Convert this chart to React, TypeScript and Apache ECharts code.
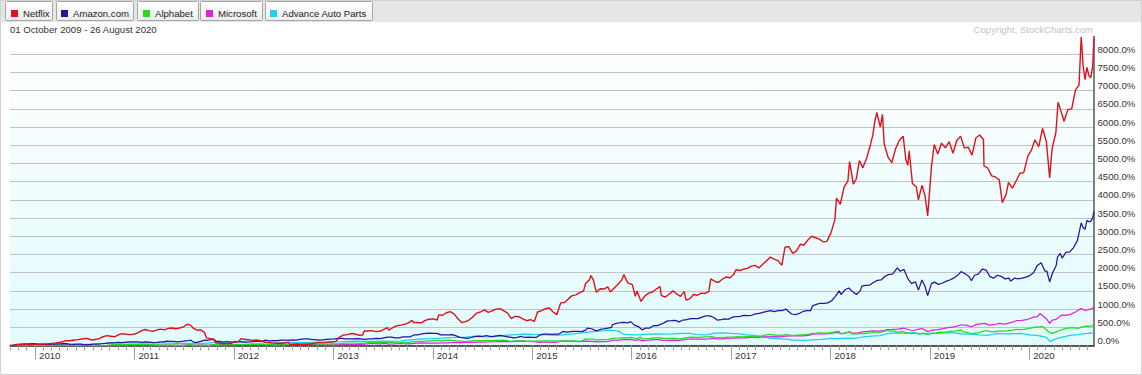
import React, { useEffect, useRef } from 'react';
import * as echarts from 'echarts';

type Pt = [string, number];

const startDate = '2009-10-01';
const endDate = '2020-08-26';
const dateRangeText = '01 October 2009 - 26 August 2020';
const copyrightText = 'Copyright, StockCharts.com';
const seriesNames = ['Netflix', 'Amazon.com', 'Alphabet', 'Microsoft', 'Advance Auto Parts'];
const seriesColors = ['#e0101c', '#2a129e', '#22dd22', '#e61ee0', '#1cd0ee'];
const yMin = 0;
const yMax = 8490;
const yStep = 500;

const netflix: Pt[] = [
  ['2009-10-01', 0], ['2009-10-12', 8], ['2009-10-23', 25], ['2009-11-06', 22], ['2009-11-20', 30], ['2009-12-04', 25], ['2009-12-18', 22],
  ['2010-01-04', 30], ['2010-01-15', 35], ['2010-01-28', 45], ['2010-02-10', 40], ['2010-02-24', 50], ['2010-03-10', 60], ['2010-03-24', 80],
  ['2010-04-08', 95], ['2010-04-23', 135], ['2010-05-07', 130], ['2010-05-21', 145], ['2010-06-07', 160], ['2010-06-21', 180], ['2010-07-06', 195],
  ['2010-07-16', 185], ['2010-07-28', 150], ['2010-08-10', 165], ['2010-08-24', 190], ['2010-09-08', 240], ['2010-09-22', 270], ['2010-10-06', 255],
  ['2010-10-20', 240], ['2010-11-03', 295], ['2010-11-17', 325], ['2010-12-01', 310], ['2010-12-15', 300], ['2010-12-29', 310],
  ['2011-01-12', 340], ['2011-01-27', 410], ['2011-02-10', 440], ['2011-02-24', 410], ['2011-03-10', 390], ['2011-03-24', 430], ['2011-04-07', 450],
  ['2011-04-21', 430], ['2011-05-05', 470], ['2011-05-19', 480], ['2011-06-02', 460], ['2011-06-16', 480], ['2011-06-30', 510], ['2011-07-13', 585],
  ['2011-07-26', 560], ['2011-08-05', 480], ['2011-08-19', 420], ['2011-09-01', 430], ['2011-09-15', 360], ['2011-09-23', 210], ['2011-10-07', 190],
  ['2011-10-21', 170], ['2011-10-26', 75], ['2011-11-09', 60], ['2011-11-23', 50], ['2011-12-07', 55], ['2011-12-21', 55],
  ['2012-01-05', 110], ['2012-01-19', 100], ['2012-01-27', 190], ['2012-02-10', 170], ['2012-02-24', 160], ['2012-03-09', 140], ['2012-03-23', 150],
  ['2012-04-09', 130], ['2012-04-25', 85], ['2012-05-09', 75], ['2012-05-23', 65], ['2012-06-08', 60], ['2012-06-22', 55], ['2012-07-09', 75],
  ['2012-07-20', 85], ['2012-07-26', 30], ['2012-08-09', 35], ['2012-08-23', 40], ['2012-09-07', 30], ['2012-09-21', 35], ['2012-10-05', 40],
  ['2012-10-24', 60], ['2012-11-01', 75], ['2012-11-15', 75], ['2012-11-29', 80], ['2012-12-13', 100], ['2012-12-27', 95],
  ['2013-01-10', 115], ['2013-01-25', 240], ['2013-02-08', 290], ['2013-02-22', 300], ['2013-03-08', 330], ['2013-03-22', 315], ['2013-04-05', 280],
  ['2013-04-19', 290], ['2013-04-24', 400], ['2013-05-08', 400], ['2013-05-22', 410], ['2013-06-07', 380], ['2013-06-21', 390], ['2013-07-05', 440],
  ['2013-07-19', 490], ['2013-07-24', 420], ['2013-08-07', 490], ['2013-08-21', 540], ['2013-09-05', 560], ['2013-09-19', 580], ['2013-10-03', 620],
  ['2013-10-17', 690], ['2013-10-23', 630], ['2013-11-06', 630], ['2013-11-20', 620], ['2013-12-04', 690], ['2013-12-18', 720],
  ['2014-01-03', 730], ['2014-01-17', 700], ['2014-01-23', 840], ['2014-02-06', 830], ['2014-02-20', 900], ['2014-03-06', 930], ['2014-03-20', 870],
  ['2014-04-03', 740], ['2014-04-17', 630], ['2014-04-30', 650], ['2014-05-14', 700], ['2014-05-28', 780], ['2014-06-11', 890], ['2014-06-25', 920],
  ['2014-07-10', 980], ['2014-07-24', 910], ['2014-08-07', 950], ['2014-08-21', 1000], ['2014-09-05', 1010], ['2014-09-19', 950], ['2014-10-03', 890],
  ['2014-10-16', 740], ['2014-10-30', 800], ['2014-11-13', 790], ['2014-11-28', 730], ['2014-12-12', 680], ['2014-12-26', 710],
  ['2015-01-09', 660], ['2015-01-21', 920], ['2015-02-05', 960], ['2015-02-19', 1010], ['2015-03-05', 1030], ['2015-03-19', 920], ['2015-04-02', 850],
  ['2015-04-16', 1170], ['2015-04-30', 1180], ['2015-05-14', 1280], ['2015-05-28', 1370], ['2015-06-11', 1390], ['2015-06-25', 1450], ['2015-07-09', 1500],
  ['2015-07-16', 1700], ['2015-07-30', 1800], ['2015-08-05', 1920], ['2015-08-14', 1800], ['2015-08-25', 1460], ['2015-09-08', 1560], ['2015-09-22', 1550],
  ['2015-10-06', 1610], ['2015-10-15', 1470], ['2015-10-29', 1570], ['2015-11-12', 1680], ['2015-11-26', 1800], ['2015-12-04', 1950], ['2015-12-18', 1720],
  ['2016-01-04', 1670], ['2016-01-15', 1350], ['2016-01-21', 1500], ['2016-02-05', 1210], ['2016-02-19', 1360], ['2016-03-04', 1440], ['2016-03-18', 1470],
  ['2016-04-01', 1550], ['2016-04-15', 1620], ['2016-04-19', 1380], ['2016-05-03', 1330], ['2016-05-17', 1400], ['2016-06-01', 1500], ['2016-06-15', 1420],
  ['2016-06-29', 1350], ['2016-07-13', 1480], ['2016-07-19', 1250], ['2016-08-02', 1280], ['2016-08-16', 1400], ['2016-08-30', 1380], ['2016-09-13', 1440],
  ['2016-09-27', 1430], ['2016-10-11', 1480], ['2016-10-18', 1830], ['2016-11-01', 1770], ['2016-11-15', 1730], ['2016-11-29', 1820], ['2016-12-13', 1880],
  ['2016-12-28', 1860],
  ['2017-01-11', 1960], ['2017-01-19', 2080], ['2017-02-02', 2060], ['2017-02-16', 2100], ['2017-03-02', 2120], ['2017-03-16', 2180], ['2017-03-30', 2200],
  ['2017-04-13', 2130], ['2017-04-27', 2230], ['2017-05-11', 2330], ['2017-05-25', 2430], ['2017-06-08', 2370], ['2017-06-22', 2330], ['2017-07-06', 2200],
  ['2017-07-18', 2700], ['2017-08-01', 2720], ['2017-08-15', 2530], ['2017-08-29', 2600], ['2017-09-12', 2780], ['2017-09-26', 2760], ['2017-10-10', 2900],
  ['2017-10-24', 3000], ['2017-11-07', 2960], ['2017-11-21', 2920], ['2017-12-05', 2850], ['2017-12-19', 2860],
  ['2018-01-03', 3100], ['2018-01-17', 3450], ['2018-01-23', 4050], ['2018-02-06', 3880], ['2018-02-20', 4350], ['2018-03-06', 4520], ['2018-03-12', 5050],
  ['2018-03-26', 4430], ['2018-04-06', 4580], ['2018-04-17', 5080], ['2018-04-30', 4880], ['2018-05-14', 5150], ['2018-05-29', 5550], ['2018-06-06', 5800],
  ['2018-06-12', 6120], ['2018-06-20', 6400], ['2018-07-03', 6000], ['2018-07-11', 6350], ['2018-07-17', 5550], ['2018-07-31', 5180], ['2018-08-14', 5020],
  ['2018-08-28', 5400], ['2018-09-11', 5640], ['2018-09-25', 5750], ['2018-10-05', 5100], ['2018-10-12', 4950], ['2018-10-17', 5350], ['2018-10-29', 4450],
  ['2018-11-12', 4360], ['2018-11-20', 4000], ['2018-12-03', 4400], ['2018-12-14', 4120], ['2018-12-24', 3560],
  ['2019-01-07', 4920], ['2019-01-17', 5520], ['2019-01-30', 5260], ['2019-02-13', 5560], ['2019-02-27', 5430], ['2019-03-13', 5600], ['2019-03-27', 5280],
  ['2019-04-10', 5630], ['2019-04-24', 5750], ['2019-05-08', 5420], ['2019-05-22', 5450], ['2019-06-05', 5230], ['2019-06-19', 5700], ['2019-07-03', 5780],
  ['2019-07-17', 5660], ['2019-07-19', 4930], ['2019-08-02', 4870], ['2019-08-16', 4660], ['2019-08-30', 4630], ['2019-09-13', 4550], ['2019-09-24', 3920],
  ['2019-10-08', 4150], ['2019-10-17', 4480], ['2019-10-31', 4320], ['2019-11-14', 4520], ['2019-11-28', 4730], ['2019-12-12', 4750], ['2019-12-27', 5200],
  ['2020-01-10', 5380], ['2020-01-22', 5650], ['2020-02-05', 5460], ['2020-02-19', 5960], ['2020-03-04', 5600], ['2020-03-16', 4600], ['2020-03-25', 5400],
  ['2020-04-08', 5850], ['2020-04-16', 6680], ['2020-04-24', 6500], ['2020-05-08', 6160], ['2020-05-22', 6480], ['2020-06-05', 6500], ['2020-06-19', 7020],
  ['2020-07-02', 7150], ['2020-07-10', 8470], ['2020-07-17', 7700], ['2020-07-24', 7300], ['2020-07-31', 7640], ['2020-08-07', 7420], ['2020-08-14', 7350],
  ['2020-08-21', 7650], ['2020-08-26', 8450],
];

const amazon: Pt[] = [
  ['2009-10-01', 0], ['2009-10-15', 3], ['2009-10-26', 30], ['2009-11-10', 38], ['2009-11-24', 45], ['2009-12-09', 47], ['2009-12-23', 50],
  ['2010-01-08', 46], ['2010-01-22', 32], ['2010-02-05', 28], ['2010-02-19', 30], ['2010-03-05', 40], ['2010-03-19', 44], ['2010-04-05', 47],
  ['2010-04-16', 58], ['2010-04-26', 52], ['2010-05-07', 36], ['2010-05-21', 32], ['2010-06-04', 35], ['2010-06-18', 37], ['2010-07-02', 18],
  ['2010-07-16', 27], ['2010-07-23', 30], ['2010-08-06', 38], ['2010-08-20', 35], ['2010-09-03', 48], ['2010-09-17', 60], ['2010-09-30', 72],
  ['2010-10-14', 70], ['2010-10-22', 80], ['2010-11-05', 88], ['2010-11-19', 82], ['2010-12-03', 92], ['2010-12-17', 98], ['2010-12-31', 97],
  ['2011-01-14', 100], ['2011-01-28', 86], ['2011-02-11', 98], ['2011-02-25', 90], ['2011-03-11', 80], ['2011-03-25', 85], ['2011-04-08', 98],
  ['2011-04-22', 100], ['2011-04-27', 120], ['2011-05-11', 113], ['2011-05-25', 110], ['2011-06-08', 100], ['2011-06-22', 110], ['2011-07-06', 128],
  ['2011-07-20', 135], ['2011-07-27', 145], ['2011-08-08', 85], ['2011-08-19', 85], ['2011-09-02', 115], ['2011-09-16', 145], ['2011-09-27', 140],
  ['2011-10-11', 165], ['2011-10-24', 150], ['2011-10-26', 115], ['2011-11-09', 115], ['2011-11-23', 95], ['2011-12-07', 110], ['2011-12-21', 90],
  ['2012-01-06', 95], ['2012-01-20', 115], ['2012-02-01', 90], ['2012-02-14', 95], ['2012-02-28', 97], ['2012-03-13', 105], ['2012-03-27', 120],
  ['2012-04-10', 107], ['2012-04-27', 150], ['2012-05-11', 130], ['2012-05-25', 135], ['2012-06-08', 135], ['2012-06-22', 145], ['2012-07-06', 150],
  ['2012-07-20', 140], ['2012-08-03', 155], ['2012-08-17', 145], ['2012-08-31', 170], ['2012-09-14', 180], ['2012-09-28', 180], ['2012-10-12', 165],
  ['2012-10-26', 160], ['2012-11-09', 145], ['2012-11-23', 155], ['2012-12-07', 165], ['2012-12-21', 175],
  ['2013-01-04', 180], ['2013-01-18', 195], ['2013-02-01', 195], ['2013-02-15', 185], ['2013-03-01', 180], ['2013-03-15', 185], ['2013-03-28', 190],
  ['2013-04-12', 185], ['2013-04-26', 170], ['2013-05-10', 185], ['2013-05-24', 180], ['2013-06-07', 195], ['2013-06-21', 190], ['2013-07-05', 210],
  ['2013-07-19', 230], ['2013-08-02', 230], ['2013-08-16', 210], ['2013-08-30', 210], ['2013-09-13', 235], ['2013-09-27', 240], ['2013-10-11', 240],
  ['2013-10-25', 295], ['2013-11-08', 295], ['2013-11-22', 320], ['2013-12-06', 330], ['2013-12-20', 340],
  ['2014-01-03', 330], ['2014-01-17', 335], ['2014-01-31', 290], ['2014-02-14', 290], ['2014-02-28', 295], ['2014-03-14', 300], ['2014-03-28', 265],
  ['2014-04-11', 225], ['2014-04-25', 210], ['2014-05-09', 195], ['2014-05-23', 220], ['2014-06-06', 250], ['2014-06-20', 255], ['2014-07-03', 250],
  ['2014-07-18', 275], ['2014-07-25', 255], ['2014-08-08', 245], ['2014-08-22', 265], ['2014-09-05', 275], ['2014-09-19', 255], ['2014-10-03', 240],
  ['2014-10-17', 225], ['2014-10-24', 210], ['2014-11-07', 225], ['2014-11-21', 250], ['2014-12-05', 220], ['2014-12-19', 230],
  ['2015-01-05', 220], ['2015-01-16', 220], ['2015-01-30', 290], ['2015-02-13', 310], ['2015-02-27', 310], ['2015-03-13', 305], ['2015-03-27', 310],
  ['2015-04-10', 315], ['2015-04-24', 385], ['2015-05-08', 370], ['2015-05-22', 380], ['2015-06-05', 385], ['2015-06-19', 390], ['2015-07-02', 380],
  ['2015-07-17', 420], ['2015-07-24', 480], ['2015-08-07', 460], ['2015-08-25', 400], ['2015-09-08', 440], ['2015-09-22', 460], ['2015-10-06', 480],
  ['2015-10-20', 500], ['2015-10-23', 570], ['2015-11-06', 610], ['2015-11-20', 625], ['2015-12-04', 635], ['2015-12-18', 620], ['2015-12-29', 655],
  ['2016-01-12', 560], ['2016-01-26', 520], ['2016-02-09', 430], ['2016-02-23', 480], ['2016-03-08', 480], ['2016-03-22', 545], ['2016-04-05', 545],
  ['2016-04-19', 585], ['2016-04-29', 620], ['2016-05-13', 675], ['2016-05-27', 680], ['2016-06-10', 690], ['2016-06-24', 650], ['2016-07-08', 700],
  ['2016-07-22', 710], ['2016-08-05', 740], ['2016-08-19', 740], ['2016-09-02', 740], ['2016-09-16', 780], ['2016-09-30', 815], ['2016-10-14', 815],
  ['2016-10-28', 775], ['2016-11-11', 700], ['2016-11-25', 710], ['2016-12-09', 730], ['2016-12-23', 720],
  ['2017-01-06', 780], ['2017-01-20', 790], ['2017-02-03', 800], ['2017-02-17', 830], ['2017-03-03', 820], ['2017-03-17', 830], ['2017-03-31', 870],
  ['2017-04-14', 880], ['2017-04-28', 910], ['2017-05-12', 935], ['2017-05-26', 955], ['2017-06-09', 930], ['2017-06-23', 955], ['2017-07-07', 960],
  ['2017-07-21', 1000], ['2017-07-28', 955], ['2017-08-11', 865], ['2017-08-25', 845], ['2017-09-08', 880], ['2017-09-22', 935], ['2017-10-06', 955],
  ['2017-10-20', 955], ['2017-10-27', 1090], ['2017-11-10', 1130], ['2017-11-24', 1160], ['2017-12-08', 1160], ['2017-12-22', 1170],
  ['2018-01-05', 1230], ['2018-01-19', 1350], ['2018-02-02', 1500], ['2018-02-09', 1400], ['2018-02-23', 1530], ['2018-03-09', 1580], ['2018-03-23', 1480],
  ['2018-04-06', 1400], ['2018-04-20', 1500], ['2018-04-27', 1640], ['2018-05-11', 1650], ['2018-05-25', 1660], ['2018-06-08', 1730], ['2018-06-22', 1790],
  ['2018-07-06', 1800], ['2018-07-20', 1900], ['2018-08-03', 1950], ['2018-08-17', 1960], ['2018-08-31', 2100], ['2018-09-04', 2130], ['2018-09-14', 2040],
  ['2018-09-28', 2090], ['2018-10-12', 1840], ['2018-10-26', 1700], ['2018-11-09', 1750], ['2018-11-20', 1520], ['2018-12-03', 1800], ['2018-12-14', 1630],
  ['2018-12-24', 1370],
  ['2019-01-07', 1700], ['2019-01-18', 1740], ['2019-02-01', 1680], ['2019-02-15', 1710], ['2019-03-01', 1760], ['2019-03-15', 1800], ['2019-03-29', 1850],
  ['2019-04-12', 1920], ['2019-04-26', 2030], ['2019-05-10', 1970], ['2019-05-24', 1900], ['2019-06-03', 1780], ['2019-06-14', 1930], ['2019-06-28', 1960],
  ['2019-07-12', 2100], ['2019-07-26', 2080], ['2019-08-09', 1900], ['2019-08-23', 1850], ['2019-09-06', 1930], ['2019-09-20', 1900], ['2019-10-04', 1830],
  ['2019-10-18', 1850], ['2019-10-25', 1770], ['2019-11-08', 1850], ['2019-11-22', 1830], ['2019-12-06', 1850], ['2019-12-20', 1880],
  ['2020-01-03', 1920], ['2020-01-17', 2000], ['2020-01-31', 2200], ['2020-02-14', 2270], ['2020-02-28', 2040], ['2020-03-06', 2040], ['2020-03-16', 1745],
  ['2020-03-27', 2000], ['2020-04-09', 2200], ['2020-04-14', 2430], ['2020-04-24', 2530], ['2020-05-01', 2400], ['2020-05-15', 2560], ['2020-05-29', 2570],
  ['2020-06-12', 2690], ['2020-06-26', 2880], ['2020-07-10', 3370], ['2020-07-17', 3240], ['2020-07-24', 3190], ['2020-07-31', 3440], ['2020-08-07', 3400],
  ['2020-08-14', 3410], ['2020-08-21', 3500], ['2020-08-26', 3680],
];

const alphabet: Pt[] = [
  ['2009-10-01', 0], ['2009-10-16', 12], ['2009-11-02', 8], ['2009-11-16', 17], ['2009-12-01', 20], ['2009-12-16', 24],
  ['2010-01-04', 28], ['2010-01-22', 12], ['2010-02-05', 8], ['2010-02-19', 11], ['2010-03-05', 15], ['2010-03-19', 17], ['2010-04-05', 16],
  ['2010-04-16', 8], ['2010-05-03', 7], ['2010-05-21', 0], ['2010-06-04', 0], ['2010-06-18', 2], ['2010-07-02', -9], ['2010-07-16', -4],
  ['2010-08-02', -1], ['2010-08-20', -6], ['2010-09-01', -7], ['2010-09-17', -1], ['2010-10-01', 8], ['2010-10-15', 23], ['2010-11-01', 26],
  ['2010-11-16', 21], ['2010-12-01', 21], ['2010-12-16', 22],
  ['2011-01-03', 24], ['2011-01-21', 26], ['2011-02-04', 25], ['2011-02-18', 29], ['2011-03-04', 24], ['2011-03-18', 16], ['2011-04-01', 19],
  ['2011-04-15', 8], ['2011-05-02', 11], ['2011-05-16', 8], ['2011-06-01', 8], ['2011-06-24', -3], ['2011-07-08', 10], ['2011-07-15', 22],
  ['2011-08-01', 25], ['2011-08-08', 4], ['2011-08-22', 3], ['2011-09-06', 11], ['2011-09-20', 12], ['2011-10-03', 2], ['2011-10-14', 21],
  ['2011-11-01', 19], ['2011-11-16', 24], ['2011-12-01', 26], ['2011-12-16', 29],
  ['2012-01-03', 33], ['2012-01-19', 32], ['2012-01-20', 20], ['2012-02-06', 23], ['2012-02-21', 25], ['2012-03-06', 28], ['2012-03-26', 32],
  ['2012-04-10', 29], ['2012-04-24', 22], ['2012-05-08', 24], ['2012-05-22', 20], ['2012-06-05', 17], ['2012-06-20', 18], ['2012-07-05', 20],
  ['2012-07-20', 30], ['2012-08-06', 32], ['2012-08-20', 38], ['2012-09-05', 42], ['2012-09-20', 52], ['2012-10-04', 57], ['2012-10-18', 42],
  ['2012-11-01', 39], ['2012-11-16', 33], ['2012-12-03', 42], ['2012-12-18', 46],
  ['2013-01-03', 48], ['2013-01-23', 54], ['2013-02-06', 59], ['2013-02-20', 64], ['2013-03-06', 68], ['2013-03-20', 65], ['2013-04-04', 60],
  ['2013-04-18', 57], ['2013-05-02', 70], ['2013-05-20', 86], ['2013-06-05', 78], ['2013-06-20', 77], ['2013-07-08', 85], ['2013-07-22', 84],
  ['2013-08-05', 82], ['2013-08-20', 75], ['2013-09-04', 79], ['2013-09-19', 84], ['2013-10-03', 79], ['2013-10-18', 108], ['2013-11-01', 107],
  ['2013-11-18', 114], ['2013-12-03', 115], ['2013-12-18', 126],
  ['2014-01-03', 126], ['2014-01-21', 138], ['2014-02-04', 128], ['2014-02-19', 142], ['2014-03-05', 146], ['2014-03-20', 135], ['2014-04-04', 120],
  ['2014-04-17', 121], ['2014-04-28', 110], ['2014-05-12', 118], ['2014-05-27', 127], ['2014-06-10', 131], ['2014-06-24', 134], ['2014-07-08', 133],
  ['2014-07-22', 142], ['2014-08-05', 135], ['2014-08-20', 139], ['2014-09-04', 143], ['2014-09-18', 146], ['2014-10-02', 132], ['2014-10-16', 116],
  ['2014-10-30', 125], ['2014-11-13', 125], ['2014-11-28', 124], ['2014-12-12', 113], ['2014-12-26', 119],
  ['2015-01-09', 114], ['2015-01-23', 124], ['2015-02-06', 118], ['2015-02-20', 126], ['2015-03-06', 128], ['2015-03-20', 128], ['2015-04-06', 122],
  ['2015-04-20', 126], ['2015-05-04', 121], ['2015-05-18', 124], ['2015-06-02', 124], ['2015-06-16', 120], ['2015-07-01', 120], ['2015-07-17', 182],
  ['2015-07-31', 177], ['2015-08-14', 173], ['2015-08-25', 146], ['2015-09-08', 160], ['2015-09-22', 160], ['2015-10-06', 170], ['2015-10-23', 198],
  ['2015-11-06', 206], ['2015-11-20', 210], ['2015-12-04', 215], ['2015-12-18', 212], ['2015-12-29', 222],
  ['2016-01-12', 203], ['2016-01-26', 197], ['2016-02-02', 232], ['2016-02-09', 185], ['2016-02-23', 188], ['2016-03-08', 194], ['2016-03-22', 210],
  ['2016-04-05', 208], ['2016-04-19', 216], ['2016-04-22', 194], ['2016-05-06', 193], ['2016-05-20', 197], ['2016-06-03', 196], ['2016-06-17', 188],
  ['2016-06-27', 178], ['2016-07-12', 204], ['2016-07-29', 226], ['2016-08-12', 230], ['2016-08-26', 225], ['2016-09-09', 220], ['2016-09-23', 234],
  ['2016-10-07', 236], ['2016-10-24', 245], ['2016-11-04', 218], ['2016-11-18', 216], ['2016-12-02', 212], ['2016-12-16', 232],
  ['2017-01-03', 232], ['2017-01-26', 245], ['2017-02-09', 240], ['2017-02-23', 244], ['2017-03-09', 248], ['2017-03-23', 237], ['2017-04-06', 247],
  ['2017-04-21', 248], ['2017-04-28', 278], ['2017-05-12', 292], ['2017-05-26', 304], ['2017-06-09', 288], ['2017-06-23', 285], ['2017-07-07', 277],
  ['2017-07-21', 300], ['2017-08-04', 283], ['2017-08-18', 271], ['2017-09-01', 284], ['2017-09-15', 290], ['2017-09-29', 300], ['2017-10-13', 315],
  ['2017-10-27', 336], ['2017-11-10', 338], ['2017-11-24', 345], ['2017-12-08', 338], ['2017-12-22', 340],
  ['2018-01-05', 356], ['2018-01-19', 378], ['2018-02-01', 388], ['2018-02-08', 328], ['2018-02-22', 347], ['2018-03-09', 372], ['2018-03-23', 318],
  ['2018-04-06', 315], ['2018-04-20', 330], ['2018-05-04', 322], ['2018-05-18', 337], ['2018-06-01', 346], ['2018-06-15', 372], ['2018-06-29', 362],
  ['2018-07-13', 382], ['2018-07-27', 412], ['2018-08-10', 398], ['2018-08-24', 392], ['2018-09-07', 362], ['2018-09-21', 388], ['2018-10-05', 355],
  ['2018-10-26', 328], ['2018-11-09', 342], ['2018-11-23', 315], ['2018-12-07', 340], ['2018-12-24', 304],
  ['2019-01-07', 332], ['2019-01-22', 342], ['2019-02-05', 366], ['2019-02-19', 360], ['2019-03-05', 372], ['2019-03-19', 388], ['2019-04-02', 392],
  ['2019-04-26', 432], ['2019-05-02', 372], ['2019-05-16', 362], ['2019-06-03', 322], ['2019-06-17', 342], ['2019-07-01', 352], ['2019-07-26', 412],
  ['2019-08-09', 386], ['2019-08-23', 376], ['2019-09-06', 392], ['2019-09-20', 398], ['2019-10-04', 396], ['2019-10-18', 412], ['2019-11-01', 422],
  ['2019-11-15', 446], ['2019-11-29', 436], ['2019-12-13', 446], ['2019-12-27', 462],
  ['2020-01-10', 482], ['2020-01-24', 512], ['2020-02-04', 502], ['2020-02-19', 526], ['2020-03-02', 442], ['2020-03-10', 392], ['2020-03-23', 333],
  ['2020-04-06', 362], ['2020-04-20', 412], ['2020-05-04', 442], ['2020-05-18', 472], ['2020-06-01', 482], ['2020-06-15', 484], ['2020-06-29', 472],
  ['2020-07-13', 512], ['2020-07-27', 530], ['2020-08-10', 522], ['2020-08-19', 546], ['2020-08-26', 572],
];

const microsoft: Pt[] = [
  ['2009-10-01', 0], ['2009-10-23', 13], ['2009-11-12', 16], ['2009-12-01', 19], ['2009-12-22', 23], ['2010-01-08', 25], ['2010-01-29', 14],
  ['2010-02-19', 16], ['2010-03-15', 19], ['2010-04-01', 21], ['2010-04-23', 28], ['2010-05-07', 10], ['2010-05-25', 2], ['2010-06-15', 5],
  ['2010-07-01', -6], ['2010-07-23', 6], ['2010-08-12', 0], ['2010-08-31', -3], ['2010-09-22', 1], ['2010-10-15', 6], ['2010-11-05', 10],
  ['2010-11-26', 4], ['2010-12-22', 16],
  ['2011-01-14', 17], ['2011-02-04', 15], ['2011-03-01', 8], ['2011-03-22', 6], ['2011-04-15', 7], ['2011-05-02', 9], ['2011-05-25', 5],
  ['2011-06-15', 4], ['2011-07-01', 10], ['2011-07-22', 16], ['2011-08-08', 4], ['2011-08-31', 12], ['2011-09-22', 4], ['2011-10-14', 13],
  ['2011-11-04', 12], ['2011-11-25', 4], ['2011-12-15', 8],
  ['2012-01-03', 12], ['2012-01-24', 24], ['2012-02-15', 34], ['2012-03-15', 40], ['2012-04-05', 38], ['2012-04-25', 32], ['2012-05-15', 26],
  ['2012-06-05', 22], ['2012-06-29', 33], ['2012-07-20', 28], ['2012-08-10', 32], ['2012-09-04', 34], ['2012-09-25', 30], ['2012-10-15', 25],
  ['2012-11-06', 22], ['2012-11-23', 14], ['2012-12-14', 17],
  ['2013-01-08', 19], ['2013-01-30', 22], ['2013-02-21', 23], ['2013-03-15', 27], ['2013-04-05', 23], ['2013-04-26', 40], ['2013-05-15', 53],
  ['2013-05-31', 52], ['2013-06-21', 46], ['2013-07-15', 58], ['2013-07-19', 40], ['2013-08-12', 42], ['2013-08-23', 52], ['2013-09-13', 49],
  ['2013-10-07', 48], ['2013-10-25', 59], ['2013-11-15', 71], ['2013-12-06', 64], ['2013-12-27', 68],
  ['2014-01-17', 66], ['2014-02-07', 70], ['2014-02-28', 73], ['2014-03-21', 86], ['2014-04-11', 80], ['2014-05-02', 83], ['2014-05-23', 86],
  ['2014-06-13', 90], ['2014-07-03', 94], ['2014-07-25', 98], ['2014-08-15', 103], ['2014-09-05', 108], ['2014-09-26', 113], ['2014-10-17', 103],
  ['2014-11-07', 116], ['2014-11-28', 120], ['2014-12-19', 114],
  ['2015-01-09', 105], ['2015-01-27', 87], ['2015-02-17', 97], ['2015-03-10', 86], ['2015-03-31', 89], ['2015-04-24', 124], ['2015-05-15', 120],
  ['2015-06-05', 112], ['2015-06-26', 107], ['2015-07-17', 119], ['2015-08-07', 116], ['2015-08-25', 98], ['2015-09-15', 106], ['2015-10-09', 115],
  ['2015-10-23', 145], ['2015-11-13', 150], ['2015-12-04', 160], ['2015-12-29', 166],
  ['2016-01-15', 141], ['2016-01-29', 160], ['2016-02-11', 135], ['2016-03-04', 145], ['2016-03-24', 158], ['2016-04-15', 162], ['2016-04-22', 138],
  ['2016-05-13', 138], ['2016-06-03', 150], ['2016-06-24', 140], ['2016-07-15', 160], ['2016-07-22', 172], ['2016-08-12', 177], ['2016-09-02', 176],
  ['2016-09-23', 178], ['2016-10-14', 180], ['2016-10-21', 195], ['2016-11-11', 185], ['2016-12-02', 182], ['2016-12-23', 202],
  ['2017-01-13', 204], ['2017-02-03', 208], ['2017-02-24', 212], ['2017-03-17', 220], ['2017-04-07', 222], ['2017-04-28', 235], ['2017-05-19', 238],
  ['2017-06-09', 242], ['2017-06-30', 236], ['2017-07-21', 256], ['2017-08-11', 262], ['2017-09-01', 268], ['2017-09-22', 266], ['2017-10-13', 280],
  ['2017-10-27', 310], ['2017-11-17', 316], ['2017-12-08', 320], ['2017-12-29', 326],
  ['2018-01-19', 355], ['2018-02-02', 352], ['2018-02-09', 322], ['2018-03-02', 350], ['2018-03-12', 375], ['2018-03-23', 335], ['2018-04-13', 350],
  ['2018-04-27', 372], ['2018-05-18', 385], ['2018-06-08', 400], ['2018-06-29', 392], ['2018-07-20', 415], ['2018-07-27', 435], ['2018-08-17', 440],
  ['2018-09-07', 450], ['2018-09-28', 480], ['2018-10-12', 440], ['2018-10-29', 405], ['2018-11-16', 440], ['2018-12-03', 465], ['2018-12-24', 380],
  ['2019-01-11', 425], ['2019-02-01', 435], ['2019-02-22', 470], ['2019-03-15', 500], ['2019-04-05', 520], ['2019-04-26', 570], ['2019-05-17', 550],
  ['2019-06-03', 515], ['2019-06-21', 580], ['2019-07-12', 600], ['2019-07-26', 605], ['2019-08-05', 560], ['2019-08-23', 570], ['2019-09-13', 610],
  ['2019-10-03', 590], ['2019-10-25', 630], ['2019-11-15', 680], ['2019-12-06', 690], ['2019-12-27', 720],
  ['2020-01-17', 780], ['2020-01-31', 790], ['2020-02-10', 880], ['2020-02-24', 790], ['2020-03-06', 720], ['2020-03-16', 610], ['2020-03-26', 700],
  ['2020-04-09', 720], ['2020-04-30', 835], ['2020-05-15', 825], ['2020-06-01', 855], ['2020-06-19', 920], ['2020-07-08', 1015], ['2020-07-17', 990],
  ['2020-07-24', 960], ['2020-07-31', 980], ['2020-08-14', 1000], ['2020-08-21', 1020], ['2020-08-26', 1065],
];

const advanceAuto: Pt[] = [
  ['2009-10-01', 0], ['2009-11-02', 2], ['2009-12-01', 4], ['2010-01-04', 3], ['2010-02-01', 5], ['2010-03-01', 8], ['2010-04-01', 15],
  ['2010-05-03', 25], ['2010-06-01', 30], ['2010-07-01', 33], ['2010-08-02', 40], ['2010-09-01', 50], ['2010-10-01', 62], ['2010-11-01', 70],
  ['2010-12-01', 72], ['2011-01-03', 68], ['2011-02-01', 65], ['2011-03-01', 70], ['2011-04-01', 72], ['2011-05-02', 68], ['2011-06-01', 55],
  ['2011-07-01', 60], ['2011-08-01', 50], ['2011-09-01', 52], ['2011-10-03', 70], ['2011-11-01', 78], ['2011-12-01', 82],
  ['2012-01-03', 95], ['2012-02-01', 115], ['2012-03-01', 130], ['2012-04-02', 125], ['2012-05-01', 95], ['2012-06-01', 90], ['2012-07-02', 80],
  ['2012-08-01', 85], ['2012-09-04', 80], ['2012-10-01', 85], ['2012-11-01', 90], ['2012-12-03', 90],
  ['2013-01-02', 98], ['2013-02-01', 105], ['2013-03-01', 115], ['2013-04-01', 120], ['2013-05-01', 112], ['2013-06-03', 110], ['2013-07-01', 120],
  ['2013-08-01', 115], ['2013-09-03', 118], ['2013-10-01', 145], ['2013-11-01', 165], ['2013-12-02', 185],
  ['2014-01-02', 190], ['2014-02-03', 200], ['2014-03-03', 215], ['2014-04-01', 220], ['2014-05-01', 230], ['2014-06-02', 250], ['2014-07-01', 245],
  ['2014-08-01', 240], ['2014-09-02', 255], ['2014-10-01', 285], ['2014-11-03', 300], ['2014-12-01', 315],
  ['2015-01-02', 305], ['2015-02-02', 300], ['2015-03-02', 290], ['2015-04-01', 275], ['2015-05-01', 300], ['2015-06-01', 320], ['2015-07-01', 345],
  ['2015-08-03', 375], ['2015-09-01', 395], ['2015-10-01', 420], ['2015-11-02', 410], ['2015-11-20', 380], ['2015-12-01', 310],
  ['2016-01-04', 295], ['2016-02-01', 290], ['2016-03-01', 310], ['2016-04-01', 320], ['2016-05-02', 310], ['2016-06-01', 320], ['2016-07-01', 335],
  ['2016-08-01', 330], ['2016-09-01', 300], ['2016-10-03', 290], ['2016-11-01', 340], ['2016-12-01', 345],
  ['2017-01-03', 330], ['2017-02-01', 320], ['2017-03-01', 290], ['2017-04-03', 270], ['2017-05-01', 235], ['2017-05-24', 200], ['2017-06-01', 195],
  ['2017-07-03', 185], ['2017-08-01', 170], ['2017-08-15', 145], ['2017-09-01', 150], ['2017-10-02', 140], ['2017-11-01', 160], ['2017-12-01', 170],
  ['2018-01-02', 195], ['2018-02-01', 190], ['2018-03-01', 200], ['2018-04-02', 195], ['2018-05-01', 240], ['2018-06-01', 255], ['2018-07-02', 270],
  ['2018-08-01', 330], ['2018-09-04', 345], ['2018-10-01', 330], ['2018-11-01', 355], ['2018-12-03', 320],
  ['2019-01-02', 330], ['2019-02-01', 335], ['2019-03-01', 355], ['2019-04-01', 345], ['2019-05-01', 310], ['2019-06-03', 315], ['2019-07-01', 290],
  ['2019-08-01', 275], ['2019-09-03', 330], ['2019-10-01', 320], ['2019-11-01', 325], ['2019-12-02', 330],
  ['2020-01-02', 290], ['2020-02-03', 270], ['2020-03-02', 230], ['2020-03-18', 110], ['2020-04-01', 160], ['2020-04-15', 200], ['2020-05-01', 230],
  ['2020-05-15', 250], ['2020-06-01', 280], ['2020-06-15', 290], ['2020-07-01', 300], ['2020-07-15', 320], ['2020-08-03', 330], ['2020-08-14', 340],
  ['2020-08-26', 350],
];

const seriesData: Pt[][] = [netflix, amazon, alphabet, microsoft, advanceAuto];

function dayList(a: string, b: string): string[] {
  const out: string[] = [];
  const d = new Date(a + 'T00:00:00Z');
  const e = new Date(b + 'T00:00:00Z');
  while (d.getTime() <= e.getTime()) {
    out.push(d.toISOString().slice(0, 10));
    d.setUTCDate(d.getUTCDate() + 1);
  }
  return out;
}

const FONT = '"Liberation Sans", Arial, Helvetica, sans-serif';

export default function App() {
  const ref = useRef<HTMLDivElement>(null);

  useEffect(() => {
    if (!ref.current) return;
    const chart = echarts.init(ref.current, null, { renderer: 'svg' });
    const days = dayList(startDate, endDate);
    const isMonthStart = (_i: number, v: string) => typeof v === 'string' && v.slice(8) === '01';
    const isYearStart = (_i: number, v: string) => typeof v === 'string' && v.slice(5) === '01-01';

    const legendLefts = [11, 61, 143, 206, 270];
    const buttons: [number, number][] = [[5, 47], [56, 77], [137, 61], [200, 62], [265, 107]];
    const btnFill = new echarts.graphic.LinearGradient(0, 0, 0, 1, [
      { offset: 0, color: '#ffffff' },
      { offset: 1, color: '#ededed' },
    ]);

    const drawOrder = [4, 2, 3, 1, 0];

    const option: any = {
      animation: false,
      textStyle: { fontFamily: FONT },
      title: [
        {
          text: dateRangeText, left: 10, top: 24, padding: 0,
          textStyle: { fontSize: 9.6, color: '#333', fontWeight: 'normal', fontFamily: FONT },
        },
        {
          text: copyrightText, right: 49, top: 24, padding: 0,
          textStyle: { fontSize: 9.6, color: '#c4c4c4', fontWeight: 'normal', fontFamily: FONT },
        },
      ],
      legend: seriesNames.map((n, i) => ({
        data: [n],
        left: legendLefts[i],
        top: 8.5,
        padding: 0,
        icon: 'rect',
        itemWidth: 7,
        itemHeight: 7,
        selectedMode: false,
        textStyle: { fontSize: 9.6, color: '#222', fontFamily: FONT, padding: [0, 0, 0, 0] },
      })),
      graphic: [
        { type: 'rect', silent: true, z: -10, shape: { x: 0, y: 0, width: 1142, height: 22 }, style: { fill: '#e5e5e5' } },
        ...buttons.map(([x, w]) => ({
          type: 'rect', silent: true, z: -5,
          shape: { x: x + 0.5, y: 1.5, width: w, height: 19, r: 1 },
          style: { fill: btnFill, stroke: '#a6a6a6', lineWidth: 1 },
        })),
        { type: 'rect', silent: true, z: -10, shape: { x: 0.5, y: 0.5, width: 1141, height: 374 }, style: { fill: 'none', stroke: '#d2d2d2', lineWidth: 1 } },
      ],
      grid: {
        left: 10, right: 48, top: 36.4, bottom: 29.5,
        show: true, borderWidth: 0,
        outerBoundsMode: 'none',
        backgroundColor: new echarts.graphic.LinearGradient(0, 0, 0, 1, [
          { offset: 0, color: '#ffffff' },
          { offset: 1, color: '#e1fbfc' },
        ]),
      },
      xAxis: [
        {
          type: 'category', data: days, boundaryGap: false, position: 'bottom',
          axisLine: { show: true, onZero: false, lineStyle: { color: '#2a2a2a', width: 1.5 } },
          axisTick: { show: true, interval: isMonthStart, length: 5, lineStyle: { color: '#a0a0a0' } },
          axisLabel: { show: false },
          splitLine: { show: false },
        },
        {
          type: 'category', data: days, boundaryGap: false, position: 'bottom',
          axisLine: { show: false, onZero: false },
          axisTick: { show: true, interval: isYearStart, length: 14, lineStyle: { color: '#a0a0a0' } },
          axisLabel: {
            show: true, interval: isYearStart, formatter: (v: string) => v.slice(0, 4),
            align: 'left', padding: [0, 0, 0, 4], margin: 5,
            fontSize: 9.6, color: '#333', fontFamily: FONT,
          },
          splitLine: { show: false },
        },
      ],
      yAxis: {
        type: 'value', position: 'right', min: yMin, max: yMax, interval: yStep,
        axisLine: { show: true, lineStyle: { color: '#555', width: 1.5 } },
        axisTick: { show: false },
        axisLabel: {
          show: true, margin: 3.5, fontSize: 9.6, color: '#333', fontFamily: FONT,
          verticalAlign: 'bottom', showMaxLabel: false,
          formatter: (v: number) => v.toFixed(1) + '%',
        },
        splitLine: { show: true, showMaxLine: false, lineStyle: { color: '#c2c2c2', width: 1 } },
      },
      series: drawOrder.map((i) => ({
        name: seriesNames[i],
        type: 'line',
        xAxisIndex: 0,
        yAxisIndex: 0,
        data: seriesData[i],
        showSymbol: false,
        symbol: 'none',
        color: seriesColors[i],
        lineStyle: { color: seriesColors[i], width: i === 0 ? 1.4 : 1.25 },
        emphasis: { disabled: true },
        z: 2 + (4 - i),
      })),
    };

    chart.setOption(option);
    return () => chart.dispose();
  }, []);

  return <div ref={ref} style={{ position: 'absolute', left: 0, top: 0, width: 1142, height: 375 }} />;
}
